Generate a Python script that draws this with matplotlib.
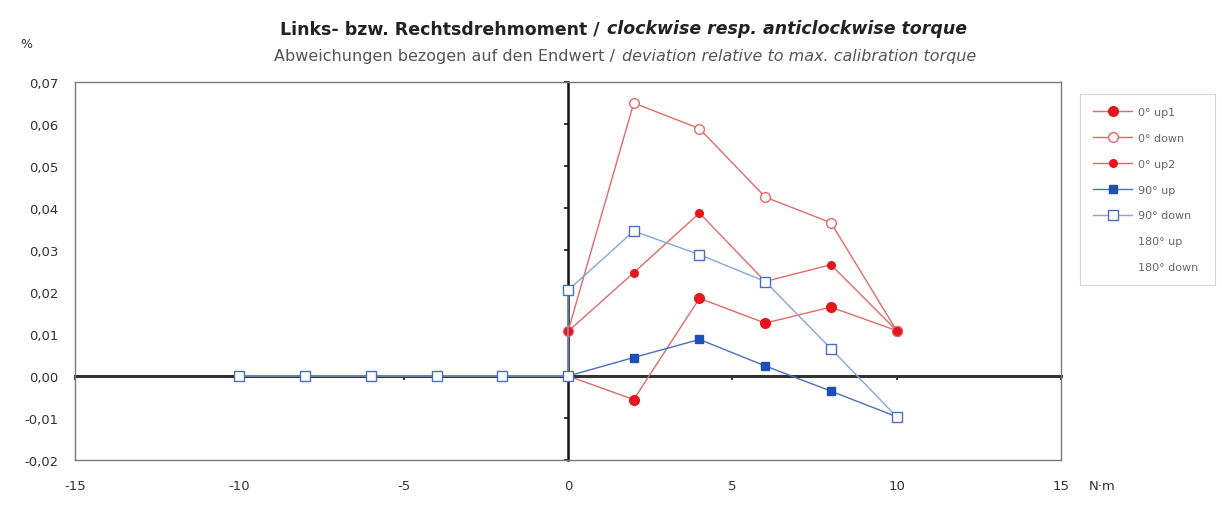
import numpy as np
import matplotlib.pyplot as plt

plt.rcParams['font.family'] = ['DejaVu Sans']

# torque steps (N·m)
x_cw = [0, 2, 4, 6, 8, 10]
x_90down = [-10, -8, -6, -4, -2, 0, 0, 2, 4, 6, 8, 10]

# deviation in %
up1_0 = [0.0, -0.0056, 0.0185, 0.0126, 0.0164, 0.0108]
down_0 = [0.0106, 0.0650, 0.0589, 0.0426, 0.0365, 0.0108]
up2_0 = [0.0106, 0.0246, 0.0388, 0.0225, 0.0265, 0.0108]
up_90 = [0.0, 0.0044, 0.0087, 0.0024, -0.0036, -0.0097]
down_90 = [0, 0, 0, 0, 0, 0, 0.0204, 0.0345, 0.0289, 0.0225, 0.0065, -0.0097]

y_ticks = [-0.02, -0.01, 0.0, 0.01, 0.02, 0.03, 0.04, 0.05, 0.06, 0.07]
x_ticks = [-15, -10, -5, 0, 5, 10, 15]

red = '#e4171f'
red_line = '#e26a6a'
blue = '#1d4fb8'
blue_line = '#4a6fbf'
blue_light = '#86a6da'

fig = plt.figure(figsize=(12.22, 5.06), dpi=100)
ax = fig.add_axes([75/1222, 1-461/506, 986/1222, 378/506])

ax.plot(x_cw, up1_0, color=red_line, lw=1, marker='o', ms=7,
        mfc=red, mec=red, label='0° up1', zorder=4)
ax.plot(x_cw, down_0, color=red_line, lw=1, marker='o', ms=7,
        mfc='white', mec=red_line, label='0° down', zorder=4)
ax.plot(x_cw, up2_0, color=red_line, lw=1, marker='o', ms=5.5,
        mfc=red, mec=red, label='0° up2', zorder=4)
ax.plot(x_cw, up_90, color=blue_line, lw=1, marker='s', ms=6,
        mfc=blue, mec=blue, label='90° up', zorder=4)
ax.plot(x_90down, down_90, color=blue_light, lw=1, marker='s', ms=6.5,
        mfc='white', mec=blue_line, label='90° down', zorder=5)
ax.plot([], [], ls='none', label='180° up')
ax.plot([], [], ls='none', label='180° down')

ax.set_xlim(-15, 15)
ax.set_ylim(-0.02, 0.07)
ax.set_xticks(x_ticks)
ax.set_yticks(y_ticks)
ax.set_xticklabels([str(v) for v in x_ticks])
ax.set_yticklabels([f'{v:.2f}'.replace('.', ',') for v in y_ticks])
ax.tick_params(length=0, labelsize=9.5, colors='#333333')
ax.tick_params(axis='x', pad=14)
ax.tick_params(axis='y', pad=12)
for s in ax.spines.values():
    s.set_color('#7a7a7a')
    s.set_linewidth(1)

# crossing axes through the origin
yax0 = ax.secondary_yaxis(0.5)
yax0.set_yticks(y_ticks)
yax0.set_yticklabels([])
yax0.tick_params(length=3, width=1.2, color='#111111', direction='in')
for s in yax0.spines.values():
    s.set_linewidth(1.8)
    s.set_color('#111111')
xax0 = ax.secondary_xaxis(2/9)
xax0.set_xticks(x_ticks)
xax0.set_xticklabels([])
xax0.tick_params(length=3, width=1.2, color='#111111')
for s in xax0.spines.values():
    s.set_linewidth(2.2)
    s.set_color('#333333')

fig.text(20/1222, 1-45/506, '%', fontsize=9, color='#333333', va='center')
fig.text(1102/1222, 1-487/506, 'N·m', fontsize=9.5, color='#333333', va='center', ha='center')

# title and subtitle (upright / italic parts)
fig.text(606/1222, 1-29/506, 'Links- bzw. Rechtsdrehmoment / ', fontsize=12.5,
         fontweight='bold', color='#222222', ha='right', va='center')
fig.text(607/1222, 1-29/506, 'clockwise resp. anticlockwise torque', fontsize=12.5,
         fontweight='bold', fontstyle='italic', color='#222222', ha='left', va='center')
fig.text(620/1222, 1-56/506, 'Abweichungen bezogen auf den Endwert / ', fontsize=11.5,
         color='#555555', ha='right', va='center')
fig.text(622/1222, 1-56/506, 'deviation relative to max. calibration torque', fontsize=11.5,
         fontstyle='italic', color='#555555', ha='left', va='center')

leg = fig.legend(loc='upper left', bbox_to_anchor=(1080/1222, 1-290/506, 135/1222, 195/506),
                 mode='expand', fontsize=8, labelspacing=1.42, handlelength=3.5,
                 handletextpad=0.5, frameon=True, fancybox=False, borderpad=1.2,
                 borderaxespad=0)
leg.get_frame().set_edgecolor('#cccccc')
leg.get_frame().set_linewidth(0.8)
for t in leg.get_texts():
    t.set_color('#666666')

fig.savefig('out.png', dpi=100)
